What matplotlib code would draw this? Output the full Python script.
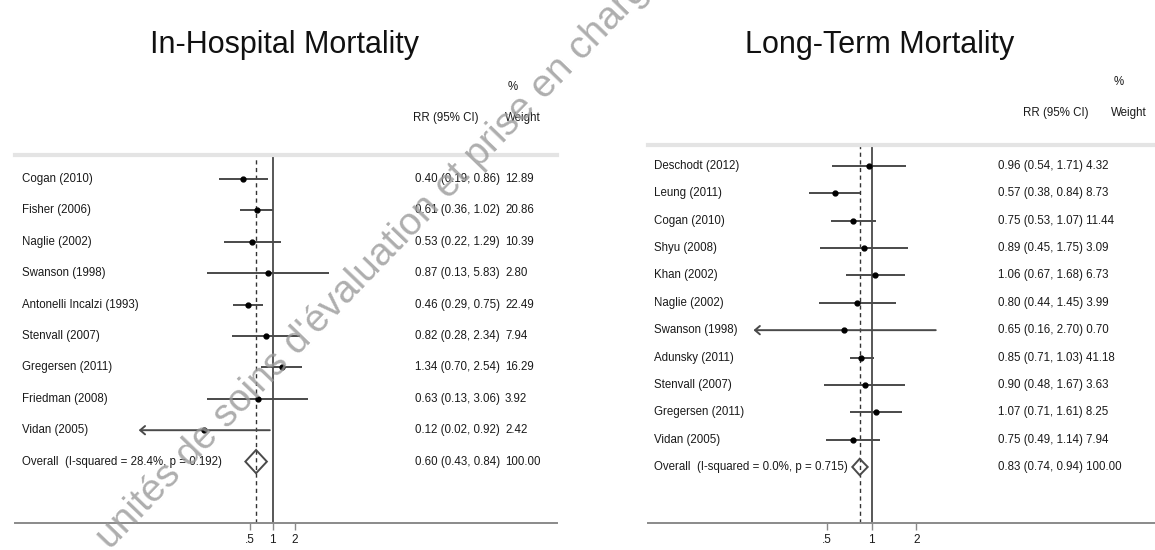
import numpy as np
import matplotlib.pyplot as plt
from matplotlib import transforms
from matplotlib.patches import Polygon

W, H = 1155, 550

# In-hospital mortality
hosp_studies = ["Cogan (2010)", "Fisher (2006)", "Naglie (2002)", "Swanson (1998)",
                "Antonelli Incalzi (1993)", "Stenvall (2007)", "Gregersen (2011)",
                "Friedman (2008)", "Vidan (2005)"]
hosp_rr = [0.40, 0.61, 0.53, 0.87, 0.46, 0.82, 1.34, 0.63, 0.12]
hosp_lo = [0.19, 0.36, 0.22, 0.13, 0.29, 0.28, 0.70, 0.13, 0.02]
hosp_hi = [0.86, 1.02, 1.29, 5.83, 0.75, 2.34, 2.54, 3.06, 0.92]
hosp_wt = [12.89, 20.86, 10.39, 2.80, 22.49, 7.94, 16.29, 3.92, 2.42]
hosp_trunc = [False, False, False, False, False, False, False, False, True]
hosp_overall = [0.60, 0.43, 0.84]
hosp_het = "Overall  (I-squared = 28.4%, p = 0.192)"

# long-term mortality
long_studies = ["Deschodt (2012)", "Leung (2011)", "Cogan (2010)", "Shyu (2008)",
                "Khan (2002)", "Naglie (2002)", "Swanson (1998)", "Adunsky (2011)",
                "Stenvall (2007)", "Gregersen (2011)", "Vidan (2005)"]
long_rr = [0.96, 0.57, 0.75, 0.89, 1.06, 0.80, 0.65, 0.85, 0.90, 1.07, 0.75]
long_lo = [0.54, 0.38, 0.53, 0.45, 0.67, 0.44, 0.16, 0.71, 0.48, 0.71, 0.49]
long_hi = [1.71, 0.84, 1.07, 1.75, 1.68, 1.45, 2.70, 1.03, 1.67, 1.61, 1.14]
long_wt = [4.32, 8.73, 11.44, 3.09, 6.73, 3.99, 0.70, 41.18, 3.63, 8.25, 7.94]
long_trunc = [False, False, False, False, False, False, True, False, False, False, False]
long_overall = [0.83, 0.74, 0.94]
long_het = "Overall  (I-squared = 0.0%, p = 0.715)"

ticks = [0.5, 1, 2]
tick_labels = [".5", "1", "2"]

BODY = ["Liberation Sans", "DejaVu Sans"]
TITLE = ["Liberation Sans", "DejaVu Sans"]
FS = 8.3
LINE = "#4a4a4a"
INK = "#1a1a1a"

fig = plt.figure(figsize=(W / 100, H / 100), dpi=100)
fig.patch.set_facecolor("white")


def forest(title, title_x, studies, rr, lo, hi, wt, trunc, overall, het,
           box, one_px, px_per_2, row0, step, lab_x, val_x, wt_x, hdr_x, hdr_y,
           floor, diam_h, joined):
    x0, x1, ytop, ybot = box
    ax = fig.add_axes([x0 / W, (H - ybot) / H, (x1 - x0) / W, (ybot - ytop) / H])
    ax.set_xscale("log", base=2)
    ax.set_xlim(2 ** ((x0 - one_px) / px_per_2), 2 ** ((x1 - one_px) / px_per_2))
    ax.set_ylim((ybot - row0) / step, (ytop - row0) / step)
    ax.set_facecolor("none")

    for s in ["left", "right"]:
        ax.spines[s].set_visible(False)
    ax.spines["top"].set_color("#e4e4e4")
    ax.spines["top"].set_linewidth(3)
    ax.spines["bottom"].set_color("#8a8a8a")
    ax.spines["bottom"].set_linewidth(1.4)
    ax.set_yticks([])
    ax.set_xticks(ticks)
    ax.set_xticklabels(tick_labels, family=BODY, fontsize=8.5, color=INK)
    ax.minorticks_off()
    ax.tick_params(axis="x", length=5, width=1, color="#8a8a8a", pad=3)

    tr = transforms.blended_transform_factory(fig.transFigure, ax.transData)
    n = len(studies)
    ypos = np.arange(n)

    ax.axvline(1, color=LINE, lw=1.3, zorder=1)
    ax.axvline(overall[0], color="#333", lw=1.0, ls=(0, (3, 2.5)), zorder=1)

    for i in range(n):
        if trunc[i]:
            ax.annotate("", xy=(floor, ypos[i]), xytext=(hi[i], ypos[i]),
                        arrowprops=dict(arrowstyle="->,head_length=0.35,head_width=0.3",
                                        color=LINE, lw=1.4, shrinkA=0, shrinkB=0))
        else:
            ax.plot([lo[i], hi[i]], [ypos[i], ypos[i]], color=LINE, lw=1.4,
                    solid_capstyle="butt", zorder=2)
    ax.plot(rr, ypos, "o", color="black", ms=3.5, zorder=3)

    # pooled estimate
    yo = n
    est, olo, ohi = overall
    ax.add_patch(Polygon([(olo, yo), (est, yo - diam_h), (ohi, yo), (est, yo + diam_h)],
                         closed=True, fill=False, edgecolor=LINE, lw=1.4, zorder=3))

    def put(x, y, s):
        ax.text(x / W, y, s, transform=tr, family=BODY, fontsize=FS,
                va="center", ha="left", color=INK)

    for i in range(n):
        put(lab_x, ypos[i], studies[i])
        ci = f"{rr[i]:.2f} ({lo[i]:.2f}, {hi[i]:.2f})"
        if joined:
            put(val_x, ypos[i], f"{ci} {wt[i]:.2f}")
        else:
            put(val_x, ypos[i], ci)
            put(wt_x, ypos[i], f"{wt[i]:.2f}")
    put(lab_x, yo, het)
    oci = f"{est:.2f} ({olo:.2f}, {ohi:.2f})"
    if joined:
        put(val_x, yo, f"{oci} 100.00")
    else:
        put(val_x, yo, oci)
        put(wt_x, yo, "100.00")

    # column headers and title
    fig.text(hdr_x / W, 1 - hdr_y / H, "RR (95% CI)", family=BODY,
             fontsize=FS, va="center", ha="left", color=INK)
    fig.text(wt_x / W, 1 - hdr_y / H, "Weight", family=BODY, fontsize=FS,
             va="center", ha="left", color=INK)
    fig.text(wt_x / W + 0.002, 1 - (hdr_y - 31) / H, "%", family=BODY, fontsize=FS,
             va="center", ha="left", color=INK)
    fig.text(title_x / W, 1 - 45 / H, title, family=TITLE, fontsize=22,
             va="center", ha="center", color="#111")
    return ax


forest("In-Hospital Mortality", 285, hosp_studies, hosp_rr, hosp_lo, hosp_hi, hosp_wt,
       hosp_trunc, hosp_overall, hosp_het,
       box=(15, 557, 155, 523), one_px=272.5, px_per_2=22.3, row0=179, step=31.4,
       lab_x=22, val_x=415, wt_x=505, hdr_x=413, hdr_y=118, floor=1 / 64,
       diam_h=0.37, joined=False)

forest("Long-Term Mortality", 880, long_studies, long_rr, long_lo, long_hi, long_wt,
       long_trunc, long_overall, long_het,
       box=(648, 1155, 145, 523), one_px=871.7, px_per_2=44.7, row0=166, step=27.36,
       lab_x=654, val_x=998, wt_x=1111, hdr_x=1023, hdr_y=113, floor=0.16,
       diam_h=0.3, joined=True)

# diagonal watermark across the page
fig.text(110 / W, 1 - 550 / H, "unités de soins d'évaluation et prise en charge",
         rotation=46, rotation_mode="anchor", ha="left", va="baseline",
         family=TITLE, fontsize=28, color="#9a9a9a", alpha=0.8, zorder=10)

fig.savefig("out.png", dpi=100, facecolor="white")
